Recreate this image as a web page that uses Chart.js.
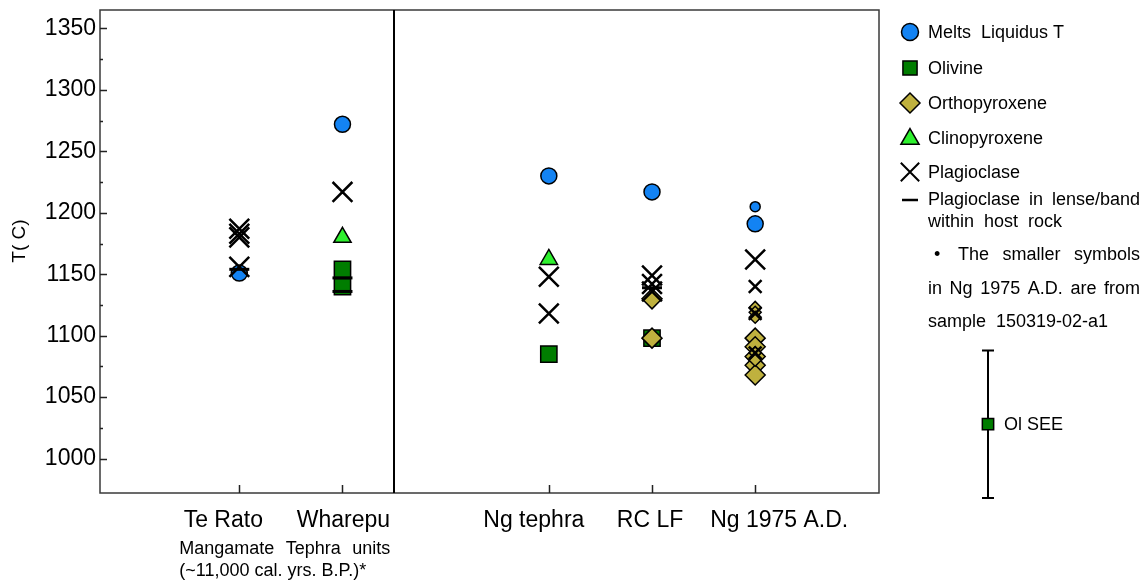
<!DOCTYPE html>
<html>
<head>
<meta charset="utf-8">
<script src="https://cdn.jsdelivr.net/npm/chart.js@4.4.0/dist/chart.umd.min.js"></script>
<style>
  html, body { margin: 0; padding: 0; background: #fff; }
  #wrap { width: 1146px; height: 582px; }
</style>
</head>
<body>
<div id="wrap"><canvas id="tChart" width="1146" height="582"></canvas></div>
<script>
// 1. data (one inner list per category, values in deg C)
const categories = ['Te Rato', 'Wharepu', 'Ng tephra', 'RC LF', 'Ng 1975 A.D.'];
const catX = [1, 2, 4, 5, 6];          // x value of each category on the linear axis
const dividerX = 2.5;                   // line between Mangamate units and Ngauruhoe
const yTicks = [1000, 1050, 1100, 1150, 1200, 1250, 1300, 1350];

const meltsT    = [[1151], [1272], [1230], [1217], [1191]];
const olivineT  = [[], [1154, 1140], [1085], [1098], []];
const opxT      = [[], [], [], [1130, 1098], [1098, 1091, 1083, 1076, 1068]];
const cpxT      = [[], [1180], [1162], [], []];
const plagT     = [[1187, 1183, 1180, 1156], [1217], [1148, 1118], [1149, 1142, 1136], [1162]];
const plagBandT = [[1154], [1147, 1136], [], [1139], []];

// smaller symbols: Ng 1975 A.D. sample 150319-02-a1
const smallMeltsT   = [[], [], [], [], [1205]];
const smallPlagT    = [[], [], [], [], [1140, 1118, 1086]];
const smallOpxT     = [[], [], [], [], [1123, 1119, 1115, 1086, 1080]];
const smallOlivineT = [[], [], [], [], [1073]];

const oliveSEE = { centre: 1028, err: 60 };

const BLUE = '#1383f3', GREEN = '#007d00', OLIVE = '#bfb13e', LIME = '#2ef02e';
const FONT = "'Liberation Sans', Arial, sans-serif";

function toPoints(series) {
    const pts = [];
    series.forEach((vals, i) => vals.forEach(v => pts.push({ x: catX[i], y: v })));
    return pts;
}

function ds(label, series, style, radius, bg, bw) {
    return {
        label: label,
        data: toPoints(series),
        pointStyle: style,
        pointRadius: radius,
        pointHoverRadius: radius,
        pointBackgroundColor: bg,
        pointBorderColor: '#000',
        pointBorderWidth: bw,
        showLine: false
    };
}

// index 0 is drawn on top
const datasets = [
    ds('Plagioclase in lense/band', plagBandT, 'line', 10, '#000', 3),
    ds('Plagioclase', plagT, 'crossRot', 14, '#000', 2.5),
    ds('Plagioclase small', smallPlagT, 'crossRot', 9, '#000', 2.5),
    ds('Clinopyroxene', cpxT, 'triangle', 10, LIME, 1.5),
    ds('Orthopyroxene small', smallOpxT, 'rectRot', 6, OLIVE, 1.5),
    ds('Orthopyroxene', opxT, 'rectRot', 10, OLIVE, 1.5),
    ds('Olivine small', smallOlivineT, 'rect', 7, GREEN, 1.5),
    ds('Olivine', olivineT, 'rect', 11.5, GREEN, 1.5),
    ds('Melts Liquidus T small', smallMeltsT, 'circle', 5, BLUE, 1.5),
    ds('Melts Liquidus T', meltsT, 'circle', 8, BLUE, 1.5)
];

// 2. frame, inward ticks, divider
const framePlugin = {
    id: 'frame',
    beforeDatasetsDraw(chart) {
        const { ctx, chartArea: a, scales: { x, y } } = chart;
        ctx.save();
        ctx.strokeStyle = '#3a3a3a';
        ctx.lineWidth = 1.5;
        ctx.strokeRect(a.left, a.top, a.right - a.left, a.bottom - a.top);

        ctx.strokeStyle = '#222';
        ctx.lineWidth = 1.5;
        ctx.beginPath();
        for (let v = 1000; v <= 1350; v += 25) {
            const py = Math.round(y.getPixelForValue(v)) + 0.5;
            ctx.moveTo(a.left, py);
            ctx.lineTo(a.left + (v % 50 === 0 ? 7 : 3), py);
        }
        catX.forEach(v => {
            const px = Math.round(x.getPixelForValue(v)) + 0.5;
            ctx.moveTo(px, a.bottom);
            ctx.lineTo(px, a.bottom - 8);
        });
        ctx.stroke();

        const dx = Math.round(x.getPixelForValue(dividerX));
        ctx.strokeStyle = '#000';
        ctx.lineWidth = 2;
        ctx.beginPath();
        ctx.moveTo(dx, a.top);
        ctx.lineTo(dx, a.bottom);
        ctx.stroke();
        ctx.restore();
    }
};

// 3. axis title, notes and the legend panel on the right
const H = Chart.helpers;
function sym(ctx, style, r, bg, bw, px, py) {
    ctx.fillStyle = bg;
    ctx.strokeStyle = '#000';
    ctx.lineWidth = bw;
    H.drawPoint(ctx, { pointStyle: style, radius: r, rotation: 0, borderWidth: bw }, px, py);
}

// spreads the words of a line so it runs from x0 to x1
function justify(ctx, text, x0, x1, py) {
    const words = text.split(' ');
    const used = words.reduce((s, w) => s + ctx.measureText(w).width, 0);
    const gap = (x1 - x0 - used) / (words.length - 1);
    let px = x0;
    words.forEach(w => { ctx.fillText(w, px, py); px += ctx.measureText(w).width + gap; });
}

// label offsets from the tick, as placed in the original figure
const labelShift = [-16, 1, -15, -2, 24];

const notesPlugin = {
    id: 'notes',
    afterDraw(chart) {
        const { ctx, chartArea: a, scales: { x, y } } = chart;
        ctx.save();
        ctx.fillStyle = '#000';
        ctx.textBaseline = 'middle';

        // category labels
        ctx.textAlign = 'center';
        ctx.font = '23px ' + FONT;
        categories.forEach((c, i) => {
            ctx.fillText(c, x.getPixelForValue(catX[i]) + labelShift[i], a.bottom + 28);
        });

        // y title
        ctx.save();
        ctx.translate(20, 241);
        ctx.rotate(-Math.PI / 2);
        ctx.font = '19px ' + FONT;
        ctx.fillText('T( C)', 0, 0);
        ctx.restore();

        // group note under Te Rato / Wharepu
        ctx.textAlign = 'left';
        ctx.font = '18px ' + FONT;
        const nx = x.getPixelForValue(catX[0]) - 60;
        justify(ctx, 'Mangamate Tephra units', nx, nx + 211, 549);
        ctx.fillText('(~11,000 cal. yrs. B.P.)*', nx, 571);

        // legend
        const sx = 910, tx = 928;
        sym(ctx, 'circle', 8.5, BLUE, 1.5, sx, 32);
        sym(ctx, 'rect', 10, GREEN, 1.5, sx, 68);
        sym(ctx, 'rectRot', 10, OLIVE, 1.5, sx, 103);
        sym(ctx, 'triangle', 10.5, LIME, 1.5, sx, 139);
        sym(ctx, 'crossRot', 13, '#000', 2, sx, 172);
        sym(ctx, 'line', 8, '#000', 2.5, sx, 200);

        ctx.fillStyle = '#000';
        ctx.font = '18px ' + FONT;
        ctx.fillText('Melts  Liquidus T', tx, 33);
        ctx.fillText('Olivine', tx, 69);
        ctx.fillText('Orthopyroxene', tx, 104);
        ctx.fillText('Clinopyroxene', tx, 139);
        ctx.fillText('Plagioclase', tx, 173);
        justify(ctx, 'Plagioclase in lense/band', tx, 1140, 200);
        justify(ctx, 'within host rock', tx, 1062, 222);
        ctx.fillText('\u2022', 934, 255);
        justify(ctx, 'The smaller symbols', 958, 1140, 255);
        justify(ctx, 'in Ng 1975 A.D. are from', tx, 1140, 289);
        ctx.fillText('sample  150319-02-a1', tx, 322);

        // olivine standard error bar
        const ex = 988;
        const yTop = y.getPixelForValue(oliveSEE.centre + oliveSEE.err);
        const yBot = y.getPixelForValue(oliveSEE.centre - oliveSEE.err);
        const yMid = y.getPixelForValue(oliveSEE.centre);
        ctx.strokeStyle = '#000';
        ctx.lineWidth = 2;
        ctx.beginPath();
        ctx.moveTo(ex, yTop); ctx.lineTo(ex, yBot);
        ctx.moveTo(ex - 6, yTop); ctx.lineTo(ex + 6, yTop);
        ctx.moveTo(ex - 6, yBot); ctx.lineTo(ex + 6, yBot);
        ctx.stroke();
        sym(ctx, 'rect', 8, GREEN, 1.5, ex, yMid);
        ctx.fillStyle = '#000';
        ctx.fillText('Ol SEE', 1004, yMid + 1);
        ctx.restore();
    }
};

// 4. chart
new Chart(document.getElementById('tChart').getContext('2d'), {
    type: 'scatter',
    data: { datasets: datasets },
    options: {
        responsive: false,
        animation: false,
        layout: { autoPadding: false, padding: { top: 10, right: 267, left: 0, bottom: 0 } },
        plugins: {
            legend: { display: false },
            tooltip: { enabled: false }
        },
        scales: {
            x: {
                type: 'linear',
                min: -0.35,
                max: 7.2,
                afterBuildTicks: scale => { scale.ticks = catX.map(v => ({ value: v })); },
                afterFit: scale => { scale.height = 89; scale.paddingLeft = 0; scale.paddingRight = 0; },
                grid: { display: false, drawTicks: false },
                border: { display: false },
                ticks: { display: false }
            },
            y: {
                min: 972,
                max: 1365,
                afterBuildTicks: scale => { scale.ticks = yTicks.map(v => ({ value: v })); },
                afterFit: scale => { scale.width = 100; scale.paddingTop = 0; scale.paddingBottom = 0; },
                grid: { display: false, drawTicks: false },
                border: { display: false },
                ticks: {
                    padding: 4,
                    color: '#000',
                    font: { family: FONT, size: 23 },
                    callback: v => String(v)
                }
            }
        }
    },
    plugins: [framePlugin, notesPlugin]
});
</script>
</body>
</html>
